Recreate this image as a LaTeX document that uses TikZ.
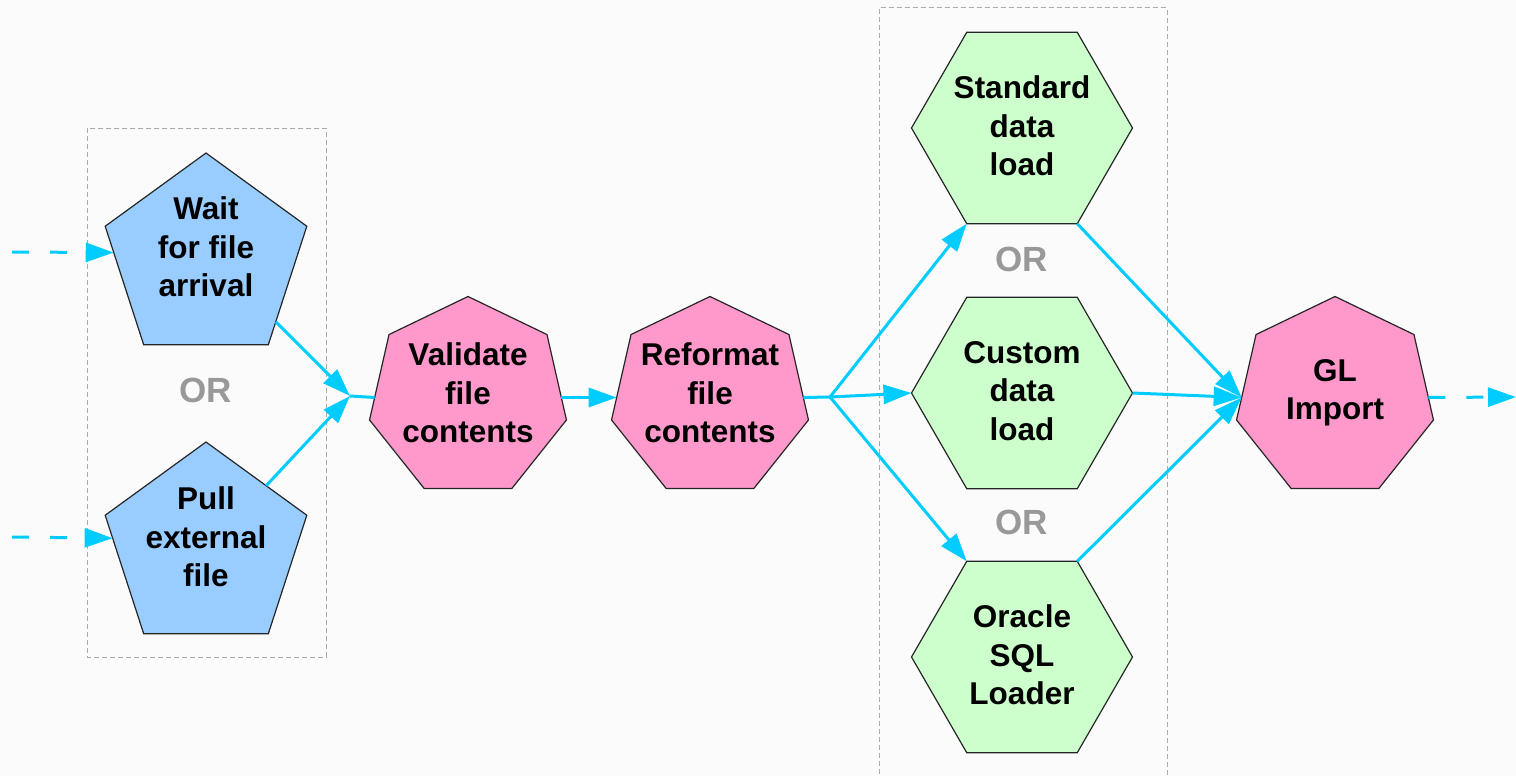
\documentclass[tikz,border=0pt]{standalone}
\usepackage{fontspec}
\setmainfont{Liberation Sans}
\usetikzlibrary{shapes.geometric,arrows.meta}
\definecolor{flow}{RGB}{0,204,255}
\definecolor{pblue}{RGB}{153,204,255}
\definecolor{hpink}{RGB}{255,153,204}
\definecolor{hgreen}{RGB}{204,255,204}
\definecolor{orgray}{RGB}{153,153,153}
\definecolor{boxgray}{RGB}{170,170,170}
\definecolor{bg}{RGB}{251,251,251}
\begin{document}
\begin{tikzpicture}[x=1pt,y=-1pt,
  shapebase/.style={regular polygon, inner sep=0pt, outer sep=0pt, draw=black!85, line width=1.2pt},
  pent/.style={shapebase, regular polygon sides=5, minimum size=212pt, fill=pblue},
  hept/.style={shapebase, regular polygon sides=7, minimum size=202pt, fill=hpink},
  hexa/.style={shapebase, regular polygon sides=6, minimum size=221pt, fill=hgreen},
  lbl/.style={font=\bfseries\fontsize{31.5}{38.5}\selectfont, align=center, inner sep=0pt},
  ortxt/.style={font=\bfseries\fontsize{35}{40}\selectfont, text=orgray, inner sep=0pt},
  flowline/.style={draw=flow, line width=3pt},
  flowarrow/.style={flowline, -{Triangle[length=28pt,width=19pt]}},
  dasharrow/.style={flowarrow, dash pattern=on 17pt off 21pt},
  grpbox/.style={draw=boxgray, line width=1pt, dash pattern=on 5pt off 3pt}]
\path[use as bounding box, fill=bg] (0,0) rectangle (1516,776);

% group boxes
\draw[grpbox] (87,128) rectangle (326,657);
\draw[grpbox] (879,790) -- (879,8) -- (1167,8) -- (1167,790);

% shapes
\node[pent] (wait) at (206,259) {};
\node[pent] (pull) at (206,548) {};
\node[hept] (validate) at (468,397.5) {};
\node[hept] (reformat) at (710,397.5) {};
\node[hexa] (standard) at (1022,128) {};
\node[hexa] (custom) at (1022,393) {};
\node[hexa] (oracle) at (1022,657) {};
\node[hept] (gl) at (1335,397.5) {};

% texts
\node[lbl] (waitT) at (206,247) {Wait\\for file\\arrival};
\node[lbl] (pullT) at (206,537) {Pull\\external\\file};
\node[lbl] (validateT) at (468,393) {Validate\\file\\contents};
\node[lbl] (reformatT) at (710,393) {Reformat\\file\\contents};
\node[lbl] (standardT) at (1022,126) {Standard\\data\\load};
\node[lbl] (customT) at (1022,391) {Custom\\data\\load};
\node[lbl] (oracleT) at (1022,655) {Oracle\\SQL\\Loader};
\node[lbl] (glT) at (1335,393) {GL\\Import};

\node[ortxt] (or1) at (206,390) {OR};
\node[ortxt] (or2) at (1022,259) {OR};
\node[ortxt] (or3) at (1022,522) {OR};

% connector points
\coordinate (in1) at (12,252);
\coordinate (in2) at (12,537);
\coordinate (merge) at (350,396);
\coordinate (split) at (830,397);
\coordinate (out) at (1516,397);

% connectors
\draw[dasharrow] (in1) -- (wait.176);
\draw[dasharrow] (in2) -- (pull.174);
\draw[flowarrow] (wait.-42) -- (merge);
\draw[flowarrow] (pull.46) -- (merge);
\draw[flowline] (merge) -- (validate.180);
\draw[flowarrow] (validate.0) -- (reformat.180);
\draw[flowline] (reformat.0) -- (split);
\draw[flowarrow] (split) -- (standard.240);
\draw[flowarrow] (split) -- (custom.180);
\draw[flowarrow] (split) -- (oracle.120);
\draw[flowarrow] (standard.300) -- (gl.180);
\draw[flowarrow] (custom.0) -- (gl.180);
\draw[flowarrow] (oracle.60) -- (gl.180);
\draw[dasharrow] (gl.0) -- (out);
\end{tikzpicture}
\end{document}
